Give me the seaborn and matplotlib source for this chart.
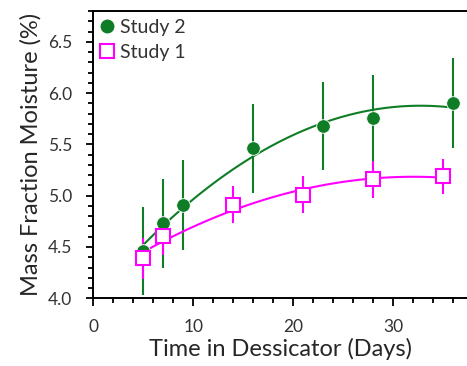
import numpy as np
import pandas as pd
import matplotlib
matplotlib.use("Agg")
import matplotlib.pyplot as plt
from matplotlib.ticker import MultipleLocator, FormatStrFormatter
from matplotlib.lines import Line2D
import seaborn as sns

# Data
study2_days = [5, 7, 9, 16, 23, 28, 36]
study2_moist = [4.46, 4.73, 4.91, 5.46, 5.68, 5.76, 5.90]
study2_err = [0.43, 0.43, 0.44, 0.43, 0.43, 0.42, 0.44]

study1_days = [5, 7, 14, 21, 28, 35]
study1_moist = [4.39, 4.61, 4.91, 5.01, 5.16, 5.19]
study1_err = [0.20, 0.19, 0.18, 0.18, 0.18, 0.17]

x_ticks = [0, 10, 20, 30]
y_ticks = [4.0, 4.5, 5.0, 5.5, 6.0, 6.5]

green = "#0f7d26"
magenta = "#ff00ff"

sns.set_theme(style="ticks")
plt.rcParams['font.family'] = ['Lato', 'DejaVu Sans']

fig = plt.figure(figsize=(4.67, 3.66), dpi=100)
# axes: x from 0 (px 93.3) to 37.4 (right image edge)
ax = fig.add_axes([0.1998, 0.185, 0.8002, 0.785])

df2 = pd.DataFrame({"x": study2_days, "y": study2_moist})
df1 = pd.DataFrame({"x": study1_days, "y": study1_moist})

# error bars
ax.errorbar(study2_days, study2_moist, yerr=study2_err, fmt="none",
            ecolor=green, elinewidth=1.5, capsize=0, zorder=2)
ax.errorbar(study1_days, study1_moist, yerr=study1_err, fmt="none",
            ecolor=magenta, elinewidth=1.5, capsize=0, zorder=2)

# quadratic fits
sns.regplot(data=df2, x="x", y="y", order=2, ci=None, scatter=False,
            line_kws=dict(color=green, lw=1.5, zorder=3), ax=ax)
sns.regplot(data=df1, x="x", y="y", order=2, ci=None, scatter=False,
            line_kws=dict(color=magenta, lw=1.5, zorder=3), ax=ax)

# markers
ax.plot(study2_days, study2_moist, linestyle="none", marker="o", ms=9.8,
        mfc=green, mec="white", mew=0.6, zorder=4)
ax.plot(study1_days, study1_moist, linestyle="none", marker="s", ms=10,
        mfc="white", mec=magenta, mew=1.5, zorder=4)

ax.set_xlim(0, 37.4)
ax.set_ylim(4.0, 6.8)
ax.set_xticks(x_ticks)
ax.set_yticks(y_ticks)
ax.xaxis.set_minor_locator(MultipleLocator(2))
ax.yaxis.set_minor_locator(MultipleLocator(0.1))
ax.yaxis.set_major_formatter(FormatStrFormatter('%.1f'))
ax.set_xlabel("")
ax.set_ylabel("")

ax.tick_params(axis="x", which="major", direction="out", length=6, width=1.3,
               labelsize=12.5, colors="black", labelcolor="#333333", pad=9)
ax.tick_params(axis="y", which="major", direction="out", length=5, width=1.3,
               labelsize=12.5, colors="black", labelcolor="#333333", pad=10)
ax.tick_params(which="minor", direction="out", length=3.5, width=1.3, colors="black")

for s in ["left", "bottom", "top"]:
    ax.spines[s].set_color("black")
    ax.spines[s].set_linewidth(1.4)
ax.spines["right"].set_visible(False)

ax.set_xlabel("Time in Dessicator (Days)", fontsize=17, color="#262626", labelpad=2)
ax.set_ylabel("Mass Fraction Moisture (%)", fontsize=17, color="#262626", labelpad=5)

handles = [
    Line2D([], [], linestyle="none", marker="o", ms=9, mfc=green, mec=green),
    Line2D([], [], linestyle="none", marker="s", ms=9.5, mfc="white", mec=magenta, mew=1.5),
]
leg = ax.legend(handles, ["Study 2", "Study 1"], loc="upper left", frameon=False,
                fontsize=14, handlelength=0.6, handletextpad=0.35,
                borderaxespad=0.1, labelspacing=0.4, borderpad=0.3)
for t in leg.get_texts():
    t.set_color("#333333")

fig.savefig("out.png", dpi=100)
